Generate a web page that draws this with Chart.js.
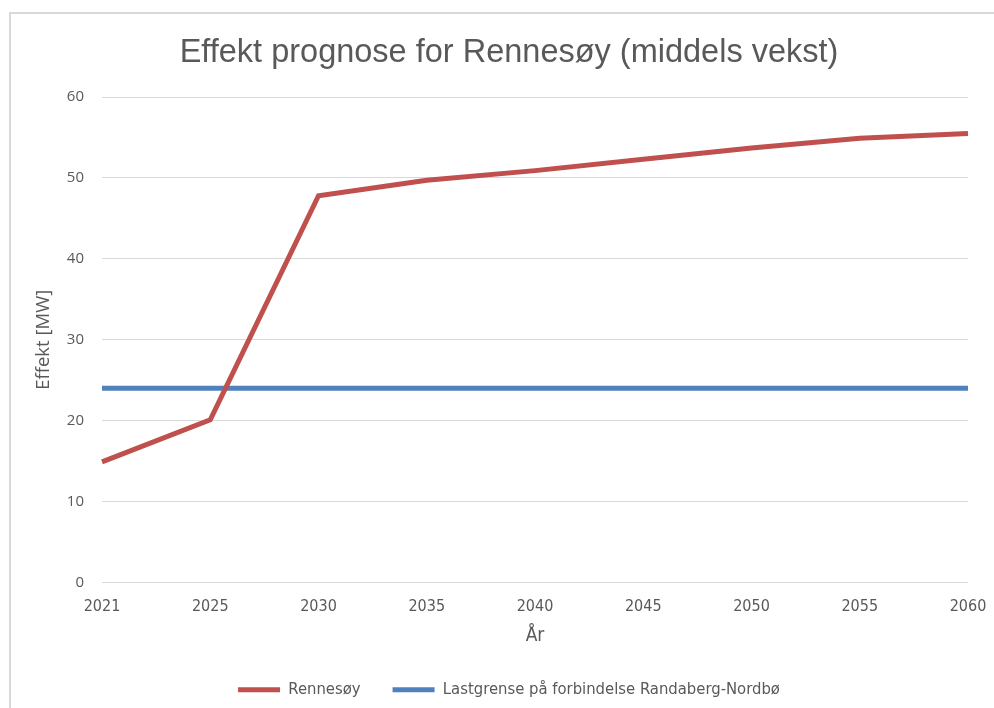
<!DOCTYPE html>
<html>
<head>
<meta charset="utf-8">
<script src="https://cdn.jsdelivr.net/npm/chart.js@4"></script>
<style>
  html, body { margin: 0; padding: 0; background: #ffffff; }
  body { width: 994px; height: 708px; position: relative; overflow: hidden; }
  #frame { position: absolute; left: 9px; top: 12px; width: 1100px; height: 800px;
           border-left: 2px solid #d9d9d9; border-top: 2px solid #d9d9d9; }
  #wrap { position: absolute; left: 0; top: 0; width: 994px; height: 708px; }
</style>
</head>
<body>
<div id="frame"></div>
<div id="wrap"><canvas id="chart"></canvas></div>
<script>
// Years on the category axis
const years = ['2021', '2025', '2030', '2035', '2040', '2045', '2050', '2055', '2060'];
// Forecast load for Rennesøy, MW
const rennesoy = [14.9, 20.1, 47.8, 49.7, 50.9, 52.3, 53.7, 54.9, 55.5];
// Load limit on the Randaberg-Nordbø connection, MW
const lastgrense = [24, 24, 24, 24, 24, 24, 24, 24, 24];
// Value axis ticks
const yTicks = [0, 10, 20, 30, 40, 50, 60];

const grey = '#595959';
const narrow = '"DejaVu Sans Condensed", "Liberation Sans Narrow", "Roboto Condensed", sans-serif';
const wide = '"Open Sans", "DejaVu Sans", sans-serif';

new Chart(document.getElementById('chart'), {
  type: 'line',
  data: {
    labels: years,
    datasets: [
      {
        label: 'Rennesøy',
        data: rennesoy,
        borderColor: '#c0504d',
        backgroundColor: '#c0504d',
        borderWidth: 5,
        pointRadius: 0,
        tension: 0
      },
      {
        label: 'Lastgrense på forbindelse Randaberg-Nordbø',
        data: lastgrense,
        borderColor: '#4f81bd',
        backgroundColor: '#4f81bd',
        borderWidth: 5,
        pointRadius: 0,
        tension: 0
      }
    ]
  },
  options: {
    responsive: true,
    maintainAspectRatio: false,
    animation: false,
    layout: { padding: { left: 50, right: 26, top: 0, bottom: 0 } },
    plugins: {
      title: {
        display: true,
        text: 'Effekt prognose for Rennesøy (middels vekst)',
        color: grey,
        font: { family: '"Liberation Sans", Arial, sans-serif', size: 32.5, weight: 'normal' },
        padding: { top: 34, bottom: 24 }
      },
      legend: {
        position: 'bottom',
        labels: {
          color: grey,
          font: { family: narrow, size: 16.5 },
          usePointStyle: true,
          pointStyle: 'line',
          pointStyleWidth: 42,
          boxHeight: 5,
          padding: 32
        }
      },
      tooltip: { enabled: false }
    },
    scales: {
      x: {
        type: 'category',
        offset: false,
        grid: { display: false, drawTicks: false },
        border: { display: false },
        ticks: {
          color: grey,
          font: { family: narrow, size: 16 },
          padding: 15,
          maxRotation: 0,
          autoSkip: false
        },
        title: {
          display: true,
          text: 'År',
          color: grey,
          font: { family: narrow, size: 19 },
          padding: { top: 0, bottom: 2 }
        },
        afterFit: s => { s.height = 67; s.paddingLeft = 0; s.paddingRight = 0; }
      },
      y: {
        min: 0,
        max: 60,
        afterBuildTicks: s => { s.ticks = yTicks.map(v => ({ value: v })); },
        grid: { color: '#d9d9d9', lineWidth: 1, drawTicks: false },
        border: { display: false },
        ticks: {
          color: grey,
          font: { family: wide, size: 15 },
          padding: 18
        },
        title: {
          display: true,
          text: 'Effekt [MW]',
          color: grey,
          font: { family: wide, size: 18.5 },
          padding: { top: -17, bottom: 0 }
        },
        afterFit: s => { s.width = 52; s.paddingTop = 0; s.paddingBottom = 0; }
      }
    }
  }
});
</script>
</body>
</html>
